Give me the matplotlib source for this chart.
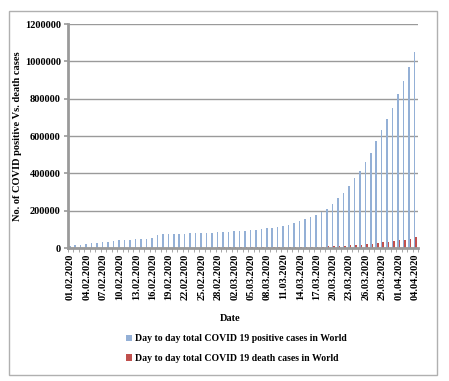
import matplotlib
matplotlib.use("Agg")
import matplotlib.pyplot as plt
from matplotlib.patches import Rectangle
from matplotlib.ticker import FixedLocator, MultipleLocator, FuncFormatter
import numpy as np
import pandas as pd

# ── Data (daily world totals) ────────────────────────────────────────────────
dates = pd.date_range("2020-02-01", "2020-04-04", freq="D")
positive = [11953, 14557, 17391, 20630, 24554, 28276, 31481, 34886, 37558, 40554,
            43103, 45171, 46997, 49053, 50580, 51857, 71429, 73332, 75204, 75748,
            76769, 77794, 78811, 79331, 80239, 81109, 82294, 83652, 85403, 87137,
            88948, 90869, 93090, 95324, 98192, 101927, 105586, 109578, 113702, 118319,
            125048, 132758, 142539, 153517, 167515, 179111, 191127, 209839, 234073, 266073,
            292142, 332930, 372757, 414179, 462684, 509164, 571678, 634835, 693224, 750890,
            823626, 896450, 972303, 1051635]
deaths = [259, 305, 362, 426, 491, 565, 638, 724, 813, 910,
          1018, 1115, 1369, 1383, 1526, 1669, 1775, 1873, 2009, 2129,
          2247, 2359, 2462, 2618, 2700, 2762, 2804, 2858, 2924, 2977,
          3043, 3112, 3198, 3281, 3380, 3486, 3584, 3809, 4012, 4292,
          4613, 4955, 5393, 5735, 6606, 7426, 7807, 8778, 9840, 11184,
          12784, 14510, 16231, 18440, 20834, 23335, 26494, 29957, 33106, 36405,
          40598, 45526, 50322, 56985]
labels = [d.strftime("%d.%m.%Y") for d in dates]

BLUE = "#94B0D6"
RED = "#C0504D"
GREY = "#9A9A9A"
SERIF = ["Liberation Serif", "DejaVu Serif"]

fig = plt.figure(figsize=(4.49, 3.81), dpi=100)
ax = fig.add_axes([0.151, 0.349, 0.780, 0.588])

x = np.arange(len(dates))
w = 0.28
ax.bar(x - w / 2, positive, width=w, color=BLUE,
       label="Day to day total COVID 19 positive cases in World")
ax.bar(x + w / 2, deaths, width=w, color=RED,
       label="Day to day total COVID 19 death cases in World")

ax.set_xlim(-0.5, len(dates) - 0.5)
ax.set_ylim(0, 1200000)
ax.yaxis.set_major_locator(MultipleLocator(200000))
ax.yaxis.set_major_formatter(FuncFormatter(lambda v, p: f"{int(v)}"))
ax.grid(axis="y", color=GREY, lw=1.0)
ax.set_axisbelow(True)

ax.set_xticks(x[::3])
ax.set_xticklabels(labels[::3], rotation=90, fontfamily=SERIF,
                   fontweight="bold", fontsize=7.5)
ax.xaxis.set_minor_locator(FixedLocator(np.arange(-0.5, len(dates), 1)))
ax.tick_params(axis="x", which="major", length=0, pad=4)
ax.tick_params(axis="x", which="minor", length=3, color=GREY, direction="out")
ax.tick_params(axis="y", length=3, color=GREY, width=1.2, pad=2)
for t in ax.get_yticklabels():
    t.set_fontfamily(SERIF)
    t.set_fontweight("bold")
    t.set_fontsize(7.5)

for s in ["top", "right"]:
    ax.spines[s].set_visible(False)
ax.spines["left"].set_color(GREY)
ax.spines["left"].set_linewidth(2)
ax.spines["bottom"].set_color(GREY)
ax.spines["bottom"].set_linewidth(2)

ax.set_ylabel("No. of COVID positive Vs. death cases", fontfamily=SERIF,
              fontweight="bold", fontsize=7.5, labelpad=2)
fig.text(0.512, 0.163, "Date", ha="center", va="center", fontfamily=SERIF,
         fontweight="bold", fontsize=7.5)

leg = fig.legend(loc="upper left", bbox_to_anchor=(0.272, 0.133), frameon=False,
                 handlelength=0.6, handleheight=0.6, handletextpad=0.3,
                 labelspacing=1.1, borderaxespad=0,
                 prop={"family": SERIF, "weight": "bold", "size": 7})

fig.patches.append(Rectangle((9 / 449, 1 - 375 / 381), 428 / 449, 364 / 381,
                             transform=fig.transFigure, fill=False,
                             edgecolor="#B0B0B0", lw=1.0))

fig.savefig("out.png", dpi=100)
